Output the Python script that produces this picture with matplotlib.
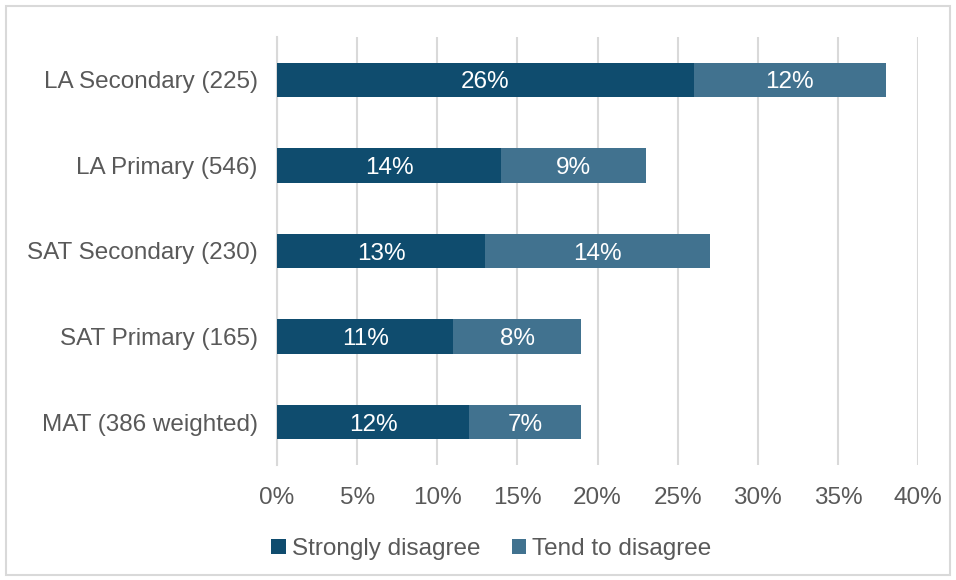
import matplotlib.pyplot as plt
from matplotlib.patches import Rectangle
import numpy as np

plt.rcParams['font.family'] = ['Liberation Sans', 'DejaVu Sans']

categories = ['LA Secondary (225)', 'LA Primary (546)', 'SAT Secondary (230)',
              'SAT Primary (165)', 'MAT (386 weighted)']
strongly = [26, 14, 13, 11, 12]
tend = [12, 9, 14, 8, 7]

dark = '#0f4c6e'
light = '#41728f'
grey = '#595959'

fig = plt.figure(figsize=(9.56, 5.8), dpi=100)
ax = fig.add_axes([0.2897, 0.1983, 0.6706, 0.7379])

y = np.arange(len(categories))
b1 = ax.barh(y, strongly, height=0.4, color=dark, label='Strongly disagree', zorder=3)
b2 = ax.barh(y, tend, left=strongly, height=0.4, color=light, label='Tend to disagree', zorder=3)

for bars, vals in ((b1, strongly), (b2, tend)):
    for bar, v in zip(bars, vals):
        ax.text(bar.get_x() + bar.get_width() / 2, bar.get_y() + bar.get_height() / 2 + 0.03,
                f'{v}%', ha='center', va='center', color='white', fontsize=17.5, zorder=4)

ax.set_xlim(0, 40)
ax.set_ylim(len(categories) - 0.5, -0.5)
ax.set_xticks(range(0, 41, 5))
ax.set_xticklabels([f'{t}%' for t in range(0, 41, 5)])
ax.set_yticks(y)
ax.set_yticklabels(categories)
ax.tick_params(length=0, labelsize=17.5, colors=grey)
ax.tick_params(axis='x', pad=16)
ax.tick_params(axis='y', pad=14)
ax.grid(axis='x', color='#d9d9d9', linewidth=1.5, zorder=0)
for s in ['top', 'right', 'bottom']:
    ax.spines[s].set_visible(False)
ax.spines['left'].set_color('#d9d9d9')
ax.spines['left'].set_linewidth(1.5)

leg = fig.legend(loc='center', bbox_to_anchor=(0.514, 0.053), ncol=2, frameon=False,
                 fontsize=17.5, handlelength=0.6, handleheight=0.6, handletextpad=0.25,
                 columnspacing=1.3)
for t in leg.get_texts():
    t.set_color(grey)

fig.patches.append(Rectangle((0.006, 0.008), 0.988, 0.982, transform=fig.transFigure,
                             fill=False, edgecolor='#d9d9d9', linewidth=1.5))

fig.savefig('out.png', dpi=100, facecolor='white')
